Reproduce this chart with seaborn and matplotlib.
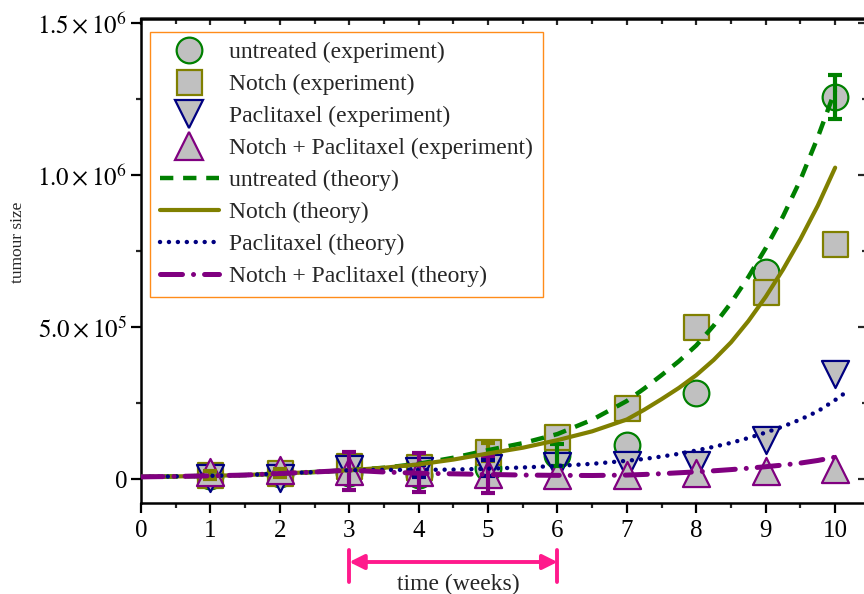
import matplotlib
matplotlib.use("Agg")
import matplotlib.pyplot as plt
import matplotlib.transforms as mtransforms
from matplotlib.lines import Line2D
from matplotlib.ticker import FixedLocator, FixedFormatter
import seaborn as sns

# ---------------- data ----------------
weeks = [1, 2, 3, 4, 5, 6, 7, 8, 9, 10]
untreated_exp = [1.1e4, 1.5e4, 2.0e4, 1.3e4, 3.6e4, 7.9e4, 1.12e5, 2.83e5, 6.82e5, 1.258e6]
untreated_err = [0, 0, 0, 0, 0, 3.5e4, 0, 0, 0, 7.3e4]
notch_exp = [1.3e4, 2.0e4, 4.3e4, 4.0e4, 9.0e4, 1.38e5, 2.33e5, 5.0e5, 6.16e5, 7.74e5]
notch_err = [1.2e4, 1.2e4, 0, 0, 3.0e4, 0, 0, 0, 0, 0]
pacl_exp = [3e3, 3e3, 3.3e4, 2.5e4, 3.6e4, 4.3e4, 4.6e4, 4.5e4, 1.3e5, 3.46e5]
pacl_err = [0, 0, 0, 2.0e4, 2.5e4, 0, 0, 0, 0, 0]
combo_exp = [2.4e4, 2.8e4, 2.6e4, 2.2e4, 1.5e4, 1.3e4, 1.3e4, 2.1e4, 2.7e4, 3.3e4]
combo_err = [0, 0, 6.3e4, 6.5e4, 6.0e4, 0, 0, 0, 0, 0]

t_grid = [0, 0.5, 1, 1.5, 2, 2.5, 3, 3.5, 4, 4.5, 5, 5.5, 6, 6.5,
          7, 7.25, 7.5, 7.75, 8, 8.25, 8.5, 8.75, 9, 9.25, 9.5, 9.75, 10]
untreated_th = [7e3, 8.5e3, 1.05e4, 1.3e4, 1.8e4, 2.3e4, 2.9e4, 3.7e4, 5.0e4, 7.0e4, 9.5e4,
                1.18e5, 1.48e5, 1.95e5,
                2.57e5, 2.98e5, 3.42e5, 3.88e5, 4.4e5, 5.05e5, 5.8e5, 6.65e5, 7.6e5,
                8.65e5, 9.85e5, 1.125e6, 1.28e6]
notch_th = [7e3, 8.5e3, 1.05e4, 1.3e4, 1.8e4, 2.3e4, 2.9e4, 3.7e4, 4.8e4, 6.4e4, 8.4e4,
            1.03e5, 1.28e5, 1.57e5,
            1.96e5, 2.28e5, 2.63e5, 3.0e5, 3.42e5, 3.92e5, 4.5e5, 5.2e5, 6.0e5,
            6.9e5, 7.9e5, 9.0e5, 1.025e6]
t_grid_pacl = [0, 0.5, 1, 1.5, 2, 2.5, 3, 3.5, 4, 4.5, 5, 5.5, 6, 6.5,
               7, 7.25, 7.5, 7.75, 8, 8.25, 8.5, 8.75, 9, 9.25, 9.5, 9.75, 10, 10.2]
pacl_th = [7e3, 8.5e3, 1.05e4, 1.3e4, 1.8e4, 2.3e4, 2.9e4, 3.0e4, 3.0e4, 3.1e4, 3.4e4,
           3.8e4, 4.3e4, 5.0e4,
           6.0e4, 6.6e4, 7.4e4, 8.3e4, 9.4e4, 1.06e5, 1.19e5, 1.35e5, 1.53e5,
           1.73e5, 1.96e5, 2.23e5, 2.6e5, 2.93e5]
combo_th = [7e3, 8.5e3, 1.05e4, 1.3e4, 1.8e4, 2.3e4, 2.9e4, 2.3e4, 1.9e4, 1.7e4, 1.5e4,
            1.3e4, 1.2e4, 1.15e4,
            1.3e4, 1.5e4, 1.75e4, 2.05e4, 2.35e4, 2.7e4, 3.1e4, 3.55e4, 4.05e4,
            4.6e4, 5.25e4, 6.1e4, 7.2e4]

x_ticks = [0, 1, 2, 3, 4, 5, 6, 7, 8, 9, 10]
y_ticks = [0, 5e5, 1e6, 1.5e6]
y_tick_labels = ["0", r"$5.0\times10^{5}$", r"$1.0\times10^{6}$", r"$1.5\times10^{6}$"]

labels_exp = ["untreated (experiment)", "Notch (experiment)", "Paclitaxel (experiment)",
              "Notch + Paclitaxel (experiment)"]
labels_th = ["untreated (theory)", "Notch (theory)", "Paclitaxel (theory)",
             "Notch + Paclitaxel (theory)"]

# ---------------- style ----------------
sns.set_style("ticks")
plt.rcParams["font.family"] = ["Liberation Serif", "DejaVu Serif"]
plt.rcParams["mathtext.fontset"] = "stix"

GREEN, OLIVE, NAVY, PURPLE = "#008000", "#808000", "#000080", "#800080"
FILL = "#c0c0c0"
PINK = "#ff1a8c"

fig = plt.figure(figsize=(8.64, 5.94), dpi=100)
L, R, B, T = 141, 865, 503, 18.5
ax = fig.add_axes([L / 864, (594 - B) / 594, (R - L) / 864, (B - T) / 594])

# experiment markers
exp_sets = [
    (untreated_exp, untreated_err, "o", GREEN, 18.5),
    (notch_exp, notch_err, "s", OLIVE, 18),
    (pacl_exp, pacl_err, "v", NAVY, 19.5),
    (combo_exp, combo_err, "^", PURPLE, 19.5),
]
for i, (vals, err, mk, col, ms) in enumerate(exp_sets):
    sns.scatterplot(x=weeks, y=vals, marker=mk, s=ms ** 2, color=FILL,
                    edgecolor=col, linewidth=1.6, ax=ax, zorder=2 + i * 0.1, legend=False)
for i, (vals, err, mk, col, ms) in enumerate(exp_sets):
    xs = [w for w, e in zip(weeks, err) if e > 0]
    ys = [v for v, e in zip(vals, err) if e > 0]
    es = [e for e in err if e > 0]
    ax.errorbar(xs, ys, yerr=es, fmt="none", ecolor=col, elinewidth=3,
                capsize=5, capthick=3, zorder=3.5)

# theory curves
sns.lineplot(x=t_grid, y=untreated_th, color=GREEN, lw=3.2,
             linestyle=(0, (3.0, 2.2)), ax=ax, zorder=4)
sns.lineplot(x=t_grid, y=notch_th, color=OLIVE, lw=3.0, linestyle="-", ax=ax, zorder=4)
sns.lineplot(x=t_grid_pacl, y=pacl_th, color=NAVY, lw=3.2,
             linestyle=(0, (0.01, 2.0)), dash_capstyle="round", ax=ax, zorder=4)
sns.lineplot(x=t_grid, y=combo_th, color=PURPLE, lw=3.6,
             linestyle=(0, (4.4, 2.2, 0.01, 2.2)), dash_capstyle="round", ax=ax, zorder=4)

# axes setup
ax.set_xlim(0, 10.43)
ax.set_ylim(-0.79e5, 1.516e6)
ax.xaxis.set_major_locator(FixedLocator(x_ticks))
ax.xaxis.set_minor_locator(FixedLocator([x + 0.5 for x in x_ticks]))
ax.yaxis.set_major_locator(FixedLocator(y_ticks))
ax.yaxis.set_major_formatter(FixedFormatter(y_tick_labels))
ax.yaxis.set_minor_locator(FixedLocator([2.5e5, 7.5e5, 1.25e6]))
ax.set_xlabel("")
ax.set_ylabel("")
for s in ["left", "bottom", "top"]:
    ax.spines[s].set_visible(True)
    ax.spines[s].set_linewidth(1.8)
    ax.spines[s].set_color("black")
ax.spines["right"].set_visible(False)
ax.tick_params(axis="both", which="major", direction="out", length=7, width=1.6,
               labelsize=18, colors="black", pad=3)
ax.tick_params(axis="both", which="minor", direction="out", length=3.5, width=1.6)
ax.tick_params(axis="x", which="major", pad=5)

secx = ax.secondary_xaxis("top")
secx.xaxis.set_major_locator(FixedLocator(x_ticks))
secx.xaxis.set_minor_locator(FixedLocator([x + 0.5 for x in x_ticks]))
secx.tick_params(which="major", direction="in", length=5, width=1.6, labeltop=False)
secx.tick_params(which="minor", direction="in", length=4, width=1.6)
secx.spines["top"].set_linewidth(1.8)

secy = ax.secondary_yaxis("right")
secy.yaxis.set_major_locator(FixedLocator(y_ticks))
secy.yaxis.set_minor_locator(FixedLocator([2.5e5, 7.5e5, 1.25e6]))
secy.tick_params(which="major", direction="in", length=5, width=1.6, labelright=False)
secy.tick_params(which="minor", direction="in", length=2, width=1.6)
secy.spines["right"].set_visible(False)

# legend
handles = [
    Line2D([], [], ls="none", marker="o", ms=18.5, mfc=FILL, mec=GREEN, mew=1.6),
    Line2D([], [], ls="none", marker="s", ms=18, mfc=FILL, mec=OLIVE, mew=1.6),
    Line2D([], [], ls="none", marker="v", ms=19.5, mfc=FILL, mec=NAVY, mew=1.6),
    Line2D([], [], ls="none", marker="^", ms=19.5, mfc=FILL, mec=PURPLE, mew=1.6),
    Line2D([], [], color=GREEN, lw=3.2, ls=(0, (3.0, 2.2))),
    Line2D([], [], color=OLIVE, lw=3.0, ls="-"),
    Line2D([], [], color=NAVY, lw=3.2, ls=(0, (0.01, 2.0)), dash_capstyle="round"),
    Line2D([], [], color=PURPLE, lw=3.6, ls=(0, (4.4, 2.2, 0.01, 2.2)), dash_capstyle="round"),
]
leg = ax.legend(handles, labels_exp + labels_th, loc="upper left",
                bbox_to_anchor=((150 - L) / (R - L), (B - 32) / (B - T)),
                borderaxespad=0, fontsize=17, frameon=True, fancybox=False,
                framealpha=1, edgecolor="#ff8c1a", handlelength=2.5,
                handletextpad=0.42, labelspacing=0.44, borderpad=0.42)
leg.get_frame().set_linewidth(1.0)
leg.set_zorder(10)

# treatment arrow
trans = mtransforms.blended_transform_factory(ax.transData, ax.transAxes)
ya = (B - 562) / (B - T)
y_lo = (B - 582) / (B - T)
y_hi = (B - 550) / (B - T)
ax.annotate("", xy=(3, ya), xytext=(6, ya), xycoords=trans, textcoords=trans,
            arrowprops=dict(arrowstyle="<|-|>", color=PINK, lw=2.8, mutation_scale=22,
                            shrinkA=0, shrinkB=0),
            annotation_clip=False)
for xv in (3, 6):
    ax.plot([xv, xv], [y_lo, y_hi], color=PINK, lw=2.8, transform=trans, clip_on=False)

fig.text(458 / 864, (594 - 590) / 594, "time (weeks)", ha="center", va="baseline", fontsize=17)
fig.text(18 / 864, (594 - 242) / 594, "tumour size", ha="center", va="center",
         rotation=90, fontsize=12.5)

fig.savefig("out.png", dpi=100)
